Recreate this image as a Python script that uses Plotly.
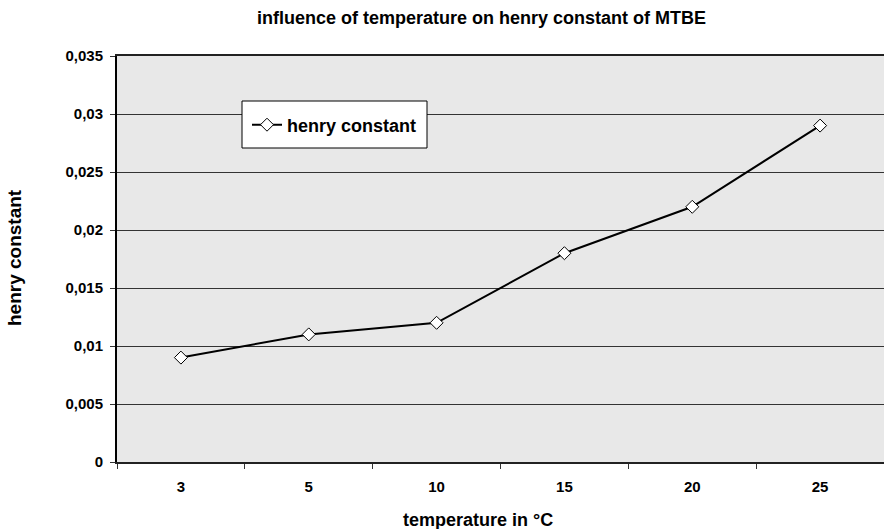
import plotly.graph_objects as go

temperatures = ["3", "5", "10", "15", "20", "25"]
henry_constant = [0.009, 0.011, 0.012, 0.018, 0.022, 0.029]

y_tick_values = [0, 0.005, 0.01, 0.015, 0.02, 0.025, 0.03, 0.035]
y_tick_labels = ["0", "0,005", "0,01", "0,015", "0,02", "0,025", "0,03", "0,035"]

W, H = 884, 529
L, R, T, B = 117, 0, 56, 67
pw, ph = W - L - R, H - T - B

def px_x(x):
    return (x - L) / pw

def px_y(y):
    return (H - B - y) / ph

font = "Liberation Sans, Arial, sans-serif"

fig = go.Figure()
fig.add_trace(go.Scatter(
    x=temperatures, y=henry_constant,
    mode="lines+markers",
    name="henry constant",
    line=dict(color="black", width=2),
    marker=dict(symbol="diamond", size=10, color="white",
                line=dict(color="black", width=1)),
))

# white framed box behind the legend entry
fig.add_shape(
    type="rect", xref="paper", yref="paper", layer="above",
    x0=px_x(242), x1=px_x(427), y0=px_y(148), y1=px_y(101),
    fillcolor="white", line=dict(color="black", width=1),
)

fig.update_layout(
    width=W, height=H,
    margin=dict(l=L, r=R, t=T, b=B),
    paper_bgcolor="white",
    plot_bgcolor="#e8e8e8",
    font=dict(family=font, color="black"),
    showlegend=True,
    legend=dict(
        x=px_x(247), y=px_y(125), xanchor="left", yanchor="middle",
        bgcolor="rgba(0,0,0,0)", borderwidth=0,
        font=dict(family=font, size=18, color="black", weight="bold"),
        itemwidth=30,
    ),
    annotations=[
        dict(text="<b>influence of temperature on henry constant of MTBE</b>",
             x=px_x(481), y=px_y(18), xref="paper", yref="paper",
             xanchor="center", yanchor="middle",
             showarrow=False, font=dict(size=18)),
        dict(text="<b>henry constant</b>", textangle=-90,
             x=px_x(14), y=px_y(258), xref="paper", yref="paper",
             xanchor="center", yanchor="middle",
             showarrow=False, font=dict(size=19)),
        dict(text="<b>temperature in °C</b>",
             x=px_x(478), y=px_y(520), xref="paper", yref="paper",
             xanchor="center", yanchor="middle",
             showarrow=False, font=dict(size=18)),
    ],
)

fig.update_xaxes(
    type="category",
    showline=True, linecolor="#222222", linewidth=2, mirror=True,
    showgrid=False,
    ticks="outside", ticklen=5, tickcolor="#333333", tickson="boundaries",
    tickfont=dict(size=15, weight="bold"),
    ticklabelstandoff=10,
    range=[-0.5, 5.5],
)
fig.update_yaxes(
    range=[0, 0.035],
    tickvals=y_tick_values, ticktext=y_tick_labels,
    showline=True, linecolor="black", linewidth=2,
    showgrid=True, gridcolor="#333333", gridwidth=1,
    zeroline=False,
    ticks="outside", ticklen=5, tickcolor="#333333",
    tickfont=dict(size=15, weight="bold"),
    ticklabelstandoff=4,
)

fig.write_html("out.html")
